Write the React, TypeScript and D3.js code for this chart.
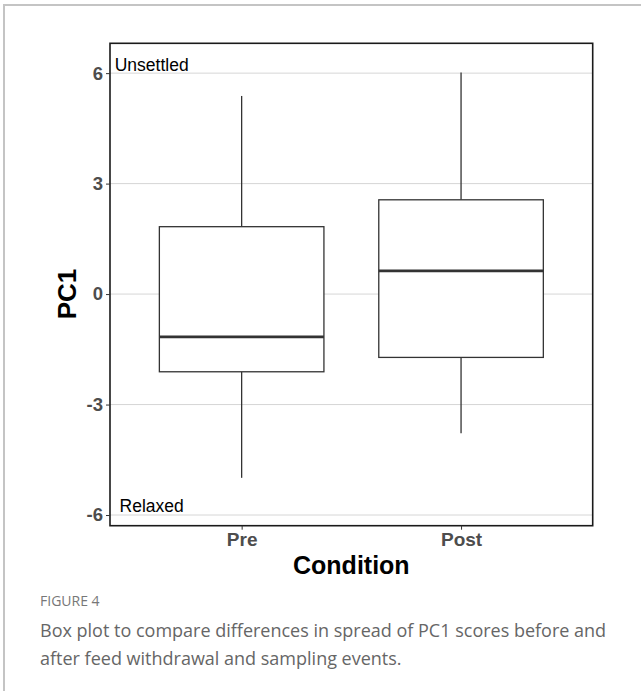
import React, { useEffect, useRef } from 'react';
import * as d3 from 'd3';

// box plot data
const conditions = ['Pre', 'Post'];
const whiskerLow = [-4.99, -3.78];
const q1 = [-2.11, -1.72];
const medians = [-1.16, 0.63];
const q3 = [1.83, 2.56];
const whiskerHigh = [5.38, 6.02];
const yTicks = [-6, -3, 0, 3, 6];
const annotations = [
  { label: 'Unsettled', x: 0.59, y: 6.22 },
  { label: 'Relaxed', x: 0.59, y: -5.75 },
];

export default function App() {
  const svgRef = useRef<SVGSVGElement>(null);

  useEffect(() => {
    if (!svgRef.current) return;
    const svg = d3.select(svgRef.current);
    svg.selectAll('*').remove();

    const W = 641, H = 691;
    const panel = { left: 110, right: 592.7, top: 43.3, bottom: 525.7 };

    // outer frame (top and left grey lines)
    svg.append('line')
      .attr('x1', 3).attr('x2', W).attr('y1', 5).attr('y2', 5)
      .attr('stroke', '#c4c4c4').attr('stroke-width', 2);
    svg.append('line')
      .attr('x1', 4).attr('x2', 4).attr('y1', 4).attr('y2', H)
      .attr('stroke', '#c4c4c4').attr('stroke-width', 2);

    // scales (discrete positions 1,2 with 0.6 expansion like ggplot)
    const x = d3.scaleLinear().domain([0.4, 2.6]).range([panel.left, panel.right]);
    const y = d3.scaleLinear().domain([-6.29, 6.81]).range([panel.bottom, panel.top]);

    // grid lines
    svg.append('g').selectAll('line').data(yTicks).join('line')
      .attr('x1', panel.left).attr('x2', panel.right)
      .attr('y1', d => y(d)).attr('y2', d => y(d))
      .attr('stroke', '#d6d6d6').attr('stroke-width', 1);

    // boxes
    const boxW = 0.75;
    const g = svg.append('g');
    conditions.forEach((c, i) => {
      const cx = x(i + 1);
      g.append('line')
        .attr('x1', cx).attr('x2', cx)
        .attr('y1', y(q3[i])).attr('y2', y(whiskerHigh[i]))
        .attr('stroke', '#333').attr('stroke-width', 1.3);
      g.append('line')
        .attr('x1', cx).attr('x2', cx)
        .attr('y1', y(q1[i])).attr('y2', y(whiskerLow[i]))
        .attr('stroke', '#333').attr('stroke-width', 1.3);
      g.append('rect')
        .attr('x', x(i + 1 - boxW / 2))
        .attr('width', x(i + 1 + boxW / 2) - x(i + 1 - boxW / 2))
        .attr('y', y(q3[i]))
        .attr('height', y(q1[i]) - y(q3[i]))
        .attr('fill', 'white').attr('stroke', '#333').attr('stroke-width', 1.3);
      g.append('line')
        .attr('x1', x(i + 1 - boxW / 2)).attr('x2', x(i + 1 + boxW / 2))
        .attr('y1', y(medians[i])).attr('y2', y(medians[i]))
        .attr('stroke', '#333').attr('stroke-width', 2.8);
    });

    // annotations
    svg.append('g').selectAll('text').data(annotations).join('text')
      .attr('x', d => x(d.x)).attr('y', d => y(d.y))
      .attr('text-anchor', 'middle').attr('dominant-baseline', 'central')
      .attr('font-family', 'Liberation Sans, Arial, sans-serif')
      .attr('font-size', 17.5).attr('fill', '#000')
      .text(d => d.label);

    // panel border
    svg.append('rect')
      .attr('x', panel.left).attr('y', panel.top)
      .attr('width', panel.right - panel.left).attr('height', panel.bottom - panel.top)
      .attr('fill', 'none').attr('stroke', '#1a1a1a').attr('stroke-width', 1.6);

    // y axis
    const yAxis = svg.append('g')
      .attr('transform', `translate(${panel.left},0)`)
      .call(d3.axisLeft(y).tickValues(yTicks).tickSize(4).tickPadding(3)
        .tickFormat(d => String(d)));
    yAxis.select('.domain').remove();
    yAxis.selectAll('line').attr('stroke', '#333');
    yAxis.selectAll('text')
      .attr('font-family', 'Liberation Sans, Arial, sans-serif')
      .attr('font-weight', 'bold').attr('font-size', 18.5).attr('fill', '#4d4d4d');

    // x axis
    const xAxis = svg.append('g')
      .attr('transform', `translate(0,${panel.bottom})`)
      .call(d3.axisBottom(x).tickValues([1, 2]).tickSize(4).tickPadding(3)
        .tickFormat(d => conditions[(d as number) - 1]));
    xAxis.select('.domain').remove();
    xAxis.selectAll('line').attr('stroke', '#333');
    xAxis.selectAll('text')
      .attr('font-family', 'Liberation Sans, Arial, sans-serif')
      .attr('font-weight', 'bold').attr('font-size', 19).attr('fill', '#4d4d4d');

    // axis titles
    svg.append('text')
      .attr('x', (panel.left + panel.right) / 2).attr('y', 574)
      .attr('text-anchor', 'middle')
      .attr('font-family', 'Liberation Sans, Arial, sans-serif')
      .attr('font-weight', 'bold').attr('font-size', 25).attr('fill', '#000')
      .text('Condition');
    svg.append('text')
      .attr('transform', `translate(76,${y(0)}) rotate(-90)`)
      .attr('text-anchor', 'middle')
      .attr('font-family', 'Liberation Sans, Arial, sans-serif')
      .attr('font-weight', 'bold').attr('font-size', 26).attr('fill', '#000')
      .text('PC1');

    // caption
    svg.append('text')
      .attr('x', 40).attr('y', 606)
      .attr('font-family', 'Open Sans, sans-serif')
      .attr('font-size', 14).attr('fill', '#777')
      .text('FIGURE 4');
    const caption = svg.append('text')
      .attr('font-family', 'Open Sans, sans-serif')
      .attr('font-size', 18).attr('fill', '#666');
    caption.append('tspan').attr('x', 40).attr('y', 637)
      .text('Box plot to compare differences in spread of PC1 scores before and');
    caption.append('tspan').attr('x', 40).attr('y', 665)
      .text('after feed withdrawal and sampling events.');
  }, []);

  return (
    <div style={{ position: 'absolute', left: 0, top: 0, width: 641, height: 691, background: 'white' }}>
      <svg ref={svgRef} width={641} height={691} style={{ display: 'block' }} />
    </div>
  );
}
